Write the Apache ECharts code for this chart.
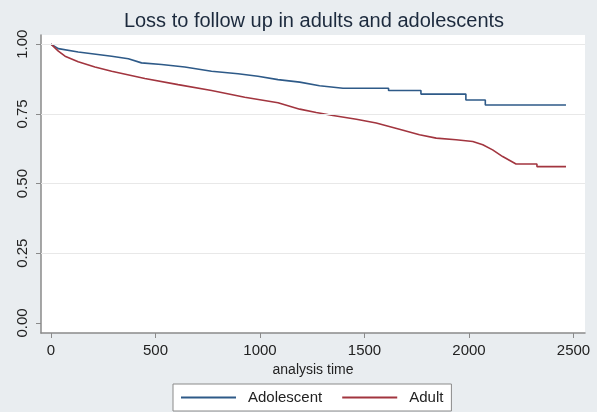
<!DOCTYPE html>
<html>
<head>
<meta charset="utf-8">
<script src="https://cdn.jsdelivr.net/npm/echarts@6/dist/echarts.min.js"></script>
<style>
html,body{margin:0;padding:0;background:#e9edf0;}
#chart{width:597px;height:412px;}
</style>
</head>
<body>
<div id="chart"></div>
<script>
var titleText = 'Loss to follow up in adults and adolescents';
var seriesNames = ['Adolescent', 'Adult'];
var xTicks = [0, 500, 1000, 1500, 2000, 2500];
var yTicks = [0, 0.25, 0.5, 0.75, 1];
var gridValues = [0.25, 0.5, 0.75, 1];

var adolescentTime = [0, 3, 35, 130, 290, 370, 433, 529, 640, 768, 895, 990, 1086, 1190, 1285, 1397, 1615, 1615, 1770, 1770, 1985, 1985, 2078, 2078, 2464];
var adolescentSurv = [1.0, 0.999, 0.984, 0.972, 0.957, 0.948, 0.933, 0.927, 0.918, 0.903, 0.894, 0.885, 0.873, 0.864, 0.851, 0.842, 0.842, 0.834, 0.834, 0.821, 0.821, 0.800, 0.800, 0.782, 0.782];

var adultTime = [0, 3, 35, 67, 130, 210, 290, 449, 608, 768, 927, 1086, 1190, 1269, 1349, 1461, 1556, 1667, 1763, 1843, 1938, 2018, 2066, 2113, 2161, 2225, 2325, 2325, 2464];
var adultSurv = [1.0, 0.999, 0.975, 0.957, 0.937, 0.918, 0.903, 0.877, 0.855, 0.834, 0.810, 0.790, 0.767, 0.755, 0.744, 0.731, 0.717, 0.695, 0.675, 0.663, 0.657, 0.651, 0.639, 0.621, 0.597, 0.570, 0.570, 0.561, 0.561];

function pairs(t, v) { return t.map(function (x, i) { return [x, v[i]]; }); }

var chart = echarts.init(document.getElementById('chart'));
var font = 'Liberation Sans, Arial, sans-serif';
chart.setOption({
  backgroundColor: '#e9edf0',
  animation: false,
  title: {
    text: titleText, left: 309, textAlign: 'center', top: 6,
    textStyle: { fontFamily: font, fontSize: 20, fontWeight: 'normal', color: '#1c2a3d' }
  },
  legend: {
    bottom: 1, left: 173,
    data: seriesNames,
    icon: 'rect', itemWidth: 55, itemHeight: 2, itemGap: 20,
    padding: [6, 8],
    backgroundColor: '#ffffff', borderColor: '#8a8a8a', borderWidth: 1, borderRadius: 0,
    textStyle: { fontFamily: font, fontSize: 15, color: '#222', padding: [0, 4, 0, 7] }
  },
  grid: {
    left: 41, right: 12, top: 35, bottom: 79,
    show: true, backgroundColor: '#ffffff', borderWidth: 0
  },
  xAxis: {
    type: 'value', min: -48, max: 2555,
    name: 'analysis time', nameLocation: 'middle', nameGap: 28,
    nameTextStyle: { fontFamily: font, fontSize: 14, color: '#222' },
    axisLine: { onZero: false, lineStyle: { color: '#8a8a8a', width: 1.5 } },
    axisTick: { show: true, length: 5, customValues: xTicks, lineStyle: { color: '#8a8a8a' } },
    axisLabel: {
      customValues: xTicks, margin: 10, fontFamily: font, fontSize: 15, color: '#222',
      formatter: function (v) { return String(v); }
    },
    splitLine: { show: false }
  },
  yAxis: {
    type: 'value', min: -0.036, max: 1.033,
    axisLine: { show: true, onZero: false, lineStyle: { color: '#8a8a8a', width: 1.5 } },
    axisTick: { show: true, length: 5, customValues: yTicks, lineStyle: { color: '#8a8a8a' } },
    axisLabel: {
      customValues: yTicks, rotate: 90, margin: 11,
      fontFamily: font, fontSize: 15, color: '#222',
      formatter: function (v) { return v.toFixed(2); }
    },
    splitLine: { show: false }
  },
  series: [
    {
      name: seriesNames[0], type: 'line', showSymbol: false,
      data: pairs(adolescentTime, adolescentSurv),
      lineStyle: { color: '#2e5a88', width: 1.6 }, itemStyle: { color: '#2e5a88' },
      z: 3,
      markLine: {
        silent: true, symbol: 'none', label: { show: false },
        lineStyle: { color: '#e8e8e8', width: 1.2, type: 'solid' },
        data: gridValues.map(function (v) { return { yAxis: v }; })
      }
    },
    {
      name: seriesNames[1], type: 'line', showSymbol: false,
      data: pairs(adultTime, adultSurv),
      lineStyle: { color: '#a2353f', width: 1.6 }, itemStyle: { color: '#a2353f' },
      z: 3
    }
  ]
});
</script>
</body>
</html>
